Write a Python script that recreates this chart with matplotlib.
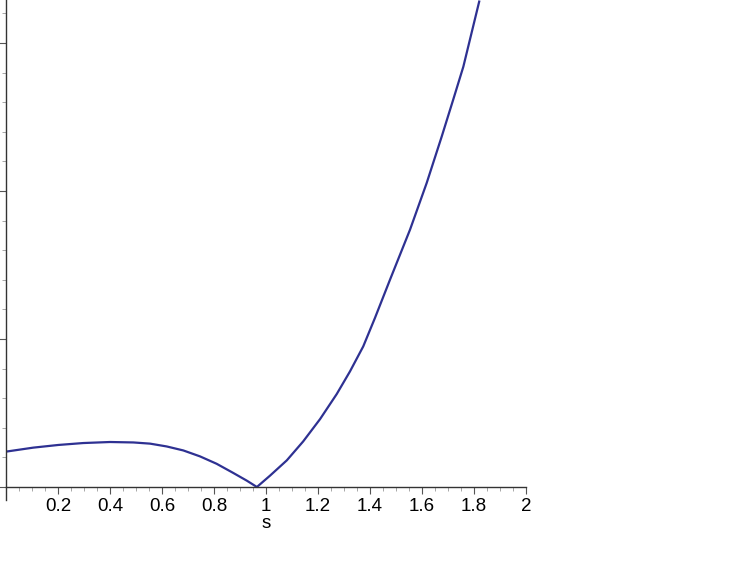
import matplotlib
matplotlib.use("Agg")
import matplotlib.pyplot as plt
from matplotlib.ticker import MultipleLocator

# values (y in units of one major y tick)
s_left = [0.0, 0.105, 0.201, 0.297, 0.4, 0.49, 0.554, 0.618, 0.682,
          0.746, 0.81, 0.874, 0.926, 0.965]
y_left = [0.239, 0.266, 0.284, 0.297, 0.304, 0.301, 0.293, 0.274, 0.247,
          0.207, 0.157, 0.095, 0.043, 0.0]

s_right = [0.965, 1.015, 1.08, 1.143, 1.208, 1.272, 1.323, 1.374, 1.419,
           1.477, 1.554, 1.618, 1.676, 1.72, 1.759, 1.82]
y_right = [0.0, 0.076, 0.18, 0.308, 0.459, 0.628, 0.781, 0.95, 1.142,
           1.401, 1.739, 2.054, 2.369, 2.617, 2.84, 3.28]

x_ticks = [0.2, 0.4, 0.6, 0.8, 1.0, 1.2, 1.4, 1.6, 1.8, 2.0]
x_tick_labels = ["0.2", "0.4", "0.6", "0.8", "1", "1.2", "1.4", "1.6", "1.8", "2"]


def main():
    plt.rcParams["font.family"] = ["Liberation Sans", "DejaVu Sans"]

    fig = plt.figure(figsize=(7.53, 5.67), dpi=100)
    ax = fig.add_axes([6 / 753, 67 / 567, 520 / 753, 500 / 567])

    color = "#2e3192"
    ax.plot(s_left + s_right[1:], y_left + y_right[1:], color=color, lw=1.6,
            solid_joinstyle="round")

    ax.set_xlim(0, 2)
    ax.set_ylim(-13 / 148, 487 / 148)

    for side in ["top", "right"]:
        ax.spines[side].set_visible(False)
    ax.spines["bottom"].set_position(("data", 0))
    ax.spines["left"].set_position(("data", 0))
    for side in ["bottom", "left"]:
        ax.spines[side].set_linewidth(1.0)
        ax.spines[side].set_color("#333333")

    ax.set_xticks(x_ticks)
    ax.set_xticklabels(x_tick_labels, fontsize=13.5)
    ax.xaxis.set_minor_locator(MultipleLocator(0.05))
    ax.yaxis.set_major_locator(MultipleLocator(1))
    ax.yaxis.set_minor_locator(MultipleLocator(0.2))
    ax.set_yticklabels([])

    ax.tick_params(axis="x", which="major", direction="out", length=5,
                   width=0.8, color="#555555", pad=3)
    ax.tick_params(axis="x", which="minor", direction="out", length=3,
                   width=0.6, color="#999999")
    ax.tick_params(axis="y", which="major", direction="out", length=5,
                   width=0.8, color="#555555")
    ax.tick_params(axis="y", which="minor", direction="out", length=3,
                   width=0.6, color="#999999")

    ax.set_xlabel("s", fontsize=13.5)
    ax.xaxis.label.set_verticalalignment("baseline")
    ax.xaxis.set_label_coords(260 / 520, -28 / 500)

    fig.savefig("out.png", dpi=100)


if __name__ == "__main__":
    main()
